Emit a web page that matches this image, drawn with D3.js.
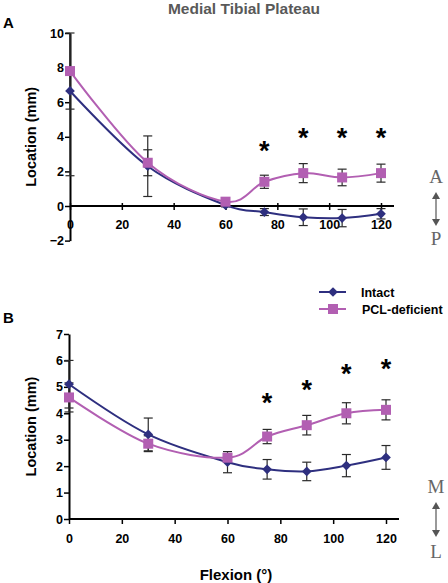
<!DOCTYPE html>
<html><head><meta charset="utf-8">
<script src="https://cdn.jsdelivr.net/npm/d3@7"></script>
<style>
body{margin:0;background:#fff;}
</style></head>
<body><svg id="c" width="448" height="583" font-family="Arial, 'Liberation Sans', sans-serif"></svg>
<script>
const flexion = [0, 30, 60, 75, 90, 105, 120];
const xTicks = [0, 20, 40, 60, 80, 100, 120];
// Panel A: anterior-posterior location (mm)
const aIntact = [6.65, 2.3, 0.05, -0.35, -0.65, -0.7, -0.45];
const aIntactErr = [4.9, 1.75, 0.1, 0.2, 0.48, 0.5, 0.3];
const aPcl = [7.8, 2.5, 0.25, 1.4, 1.9, 1.65, 1.9];
const aPclErr = [2.2, 0.75, 0.1, 0.38, 0.55, 0.48, 0.52];
const aYTicks = [-2, 0, 2, 4, 6, 8, 10];
const aStars = [[75, 3.5], [90, 4.3], [105, 4.3], [120, 4.3]];
// Panel B: medial-lateral location (mm)
const bIntact = [5.1, 3.2, 2.15, 1.88, 1.8, 2.02, 2.33];
const bIntactErr = [0.9, 0.62, 0.4, 0.37, 0.35, 0.42, 0.45];
const bPcl = [4.6, 2.85, 2.32, 3.12, 3.55, 4.0, 4.13];
const bPclErr = [0.55, 0.3, 0.15, 0.27, 0.37, 0.4, 0.38];
const bYTicks = [0, 1, 2, 3, 4, 5, 6, 7];
const bStars = [[75, 4.6], [90, 5.1], [105, 5.7], [120, 5.9]];
const seriesNames = ["Intact", "PCL-deficient"];

const cIntact = "#2e2f7f", cPcl = "#b25fb2", cErr = "#2a2a2a";
const SANS = "Arial, 'Liberation Sans', sans-serif";
const SERIF = "'Liberation Serif', 'Times New Roman', 'DejaVu Serif', serif";
const svg = d3.select("#c");

svg.append("text").attr("x", 244).attr("y", 14).attr("text-anchor", "middle")
  .attr("font-size", 15.5).attr("font-weight", "bold").attr("fill", "#595959").text("Medial Tibial Plateau");

function panel(o) {
  const g = svg.append("g");
  const x = d3.scaleLinear().domain([0, 120]).range(o.xr);
  const y = d3.scaleLinear().domain(o.yd).range(o.yr);
  g.append("text").attr("x", 3).attr("y", o.letterY).attr("font-size", 15).attr("font-weight", "bold").text(o.letter);
  g.append("text").attr("transform", `translate(${o.ylabX},${(o.yr[0]+o.yr[1])/2}) rotate(-90)`)
    .attr("text-anchor", "middle").attr("font-size", 14.5).attr("font-weight", "bold").text("Location (mm)");
  const ya = g.append("g").attr("transform", `translate(${o.xr[0]},0)`)
    .call(d3.axisLeft(y).tickValues(o.yTicks).tickSize(5).tickSizeOuter(0).tickFormat(d3.format("d")));
  ya.attr("font-family", SANS);
  ya.select(".domain").attr("stroke", "#000").attr("stroke-width", 2);
  ya.selectAll(".tick line").attr("stroke", "#000").attr("stroke-width", 1.5);
  ya.selectAll(".tick text").attr("font-size", 12.5).attr("font-weight", "bold").attr("fill", "#000").attr("x", -6);
  const xa = g.append("g").attr("transform", `translate(0,${y(o.xAxisAt)})`)
    .call(d3.axisBottom(x).tickValues(xTicks).tickSize(o.xTickSize).tickSizeOuter(0).tickPadding(o.xPad));
  xa.attr("font-family", SANS);
  xa.select(".domain").remove();
  xa.append("line").attr("x1", o.xr[0]).attr("x2", o.xEnd).attr("stroke", "#000").attr("stroke-width", 2);
  xa.selectAll(".tick line").attr("stroke", "#000").attr("stroke-width", 1.5).attr("y1", o.xTickUp);
  xa.selectAll(".tick text").attr("font-size", 12.5).attr("font-weight", "bold").attr("fill", "#000");

  const line = d3.line().x((d, i) => x(flexion[i])).y(d => y(d)).curve(d3.curveCardinal.tension(0));
  const ymax = o.yd[1];
  function errs(vals, e) {
    vals.forEach((v, i) => {
      const hi = Math.min(v + e[i], ymax), lo = v - e[i], cx = x(flexion[i]);
      g.append("line").attr("x1", cx).attr("x2", cx).attr("y1", y(hi)).attr("y2", y(lo)).attr("stroke", cErr).attr("stroke-width", 1.2);
      [lo, v + e[i]].forEach(c => { if (c <= ymax + 1e-9)
        g.append("line").attr("x1", cx - 4.5).attr("x2", cx + 4.5).attr("y1", y(c)).attr("y2", y(c)).attr("stroke", cErr).attr("stroke-width", 1.2); });
    });
  }
  errs(o.intact, o.intactErr);
  errs(o.pcl, o.pclErr);
  g.append("path").datum(o.intact).attr("d", line).attr("fill", "none").attr("stroke", cIntact).attr("stroke-width", 2);
  g.append("path").datum(o.pcl).attr("d", line).attr("fill", "none").attr("stroke", cPcl).attr("stroke-width", 2);
  const diamond = d3.symbol().type(d3.symbolDiamond2).size(60);
  g.selectAll(null).data(o.intact).join("path").attr("d", diamond)
    .attr("transform", (d, i) => `translate(${x(flexion[i])},${y(d)})`).attr("fill", cIntact);
  g.selectAll(null).data(o.pcl).join("rect")
    .attr("x", (d, i) => x(flexion[i]) - 5).attr("y", d => y(d) - 5).attr("width", 10).attr("height", 10).attr("fill", cPcl);
  g.selectAll(null).data(o.stars).join("text").attr("x", d => x(d[0])).attr("y", d => y(d[1]) + 15)
    .attr("text-anchor", "middle").attr("font-size", 27).attr("font-weight", "bold").text("*");
  const sx = 436;
  g.append("text").attr("x", sx).attr("y", o.side[0]).attr("text-anchor", "middle").attr("font-family", SERIF)
    .attr("font-size", 19).attr("fill", "#666").text(o.sideText[0]);
  g.append("text").attr("x", sx).attr("y", o.side[3]).attr("text-anchor", "middle").attr("font-family", SERIF)
    .attr("font-size", 19).attr("fill", "#666").text(o.sideText[1]);
  g.append("line").attr("x1", sx).attr("x2", sx).attr("y1", o.side[1] + 5).attr("y2", o.side[2] - 5).attr("stroke", "#555").attr("stroke-width", 1.2);
  g.append("path").attr("d", `M${sx},${o.side[1]} l-4,7 l8,0 z`).attr("fill", "#555");
  g.append("path").attr("d", `M${sx},${o.side[2]} l-4,-7 l8,0 z`).attr("fill", "#555");
  return {x, y};
}

panel({letter: "A", letterY: 28, xr: [70, 381], xEnd: 394, yd: [-2, 10], yr: [240.6, 33], ylabX: 36,
  yTicks: aYTicks, xAxisAt: 0, xTickSize: 4, xTickUp: -3, xPad: 10,
  intact: aIntact, intactErr: aIntactErr, pcl: aPcl, pclErr: aPclErr, stars: aStars,
  side: [183, 192, 226, 245], sideText: ["A", "P"]});

panel({letter: "B", letterY: 323, xr: [69, 386], xEnd: 399, yd: [0, 7], yr: [519, 334], ylabX: 36,
  yTicks: bYTicks, xAxisAt: 0, xTickSize: 5, xTickUp: 0, xPad: 10,
  intact: bIntact, intactErr: bIntactErr, pcl: bPcl, pclErr: bPclErr, stars: bStars,
  side: [493, 502, 537, 558], sideText: ["M", "L"]});

svg.append("text").attr("x", 236).attr("y", 580).attr("text-anchor", "middle").attr("font-size", 15)
  .attr("font-weight", "bold").text("Flexion (°)");

const lg = svg.append("g");
const cols = [cIntact, cPcl];
seriesNames.forEach((n, i) => {
  const yy = 292 + i * 17;
  lg.append("line").attr("x1", 319).attr("x2", 346).attr("y1", yy).attr("y2", yy).attr("stroke", cols[i]).attr("stroke-width", 2);
  if (i === 0) lg.append("path").attr("d", d3.symbol().type(d3.symbolDiamond2).size(60)()).attr("transform", `translate(333,${yy})`).attr("fill", cols[i]);
  else lg.append("rect").attr("x", 328).attr("y", yy - 5).attr("width", 10).attr("height", 10).attr("fill", cols[i]);
  lg.append("text").attr("x", 361 + i).attr("y", yy + 4.5).attr("font-size", 12.5).attr("font-weight", "bold").text(n);
});
</script></body></html>
